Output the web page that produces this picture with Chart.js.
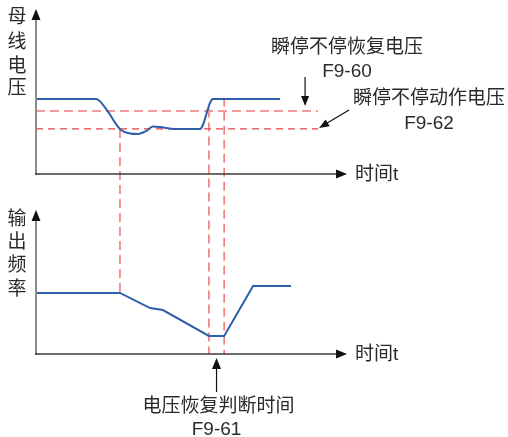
<!DOCTYPE html>
<html lang="zh">
<head>
<meta charset="UTF-8">
<title>瞬停不停</title>
<script src="https://cdn.jsdelivr.net/npm/chart.js"></script>
<style>
  html, body { margin: 0; padding: 0; background: #fff; }
  #wrap { position: relative; width: 508px; height: 437px; overflow: hidden; }
  canvas { position: absolute; left: 0; display: block; }
  #topChart { top: 0; }
  #bottomChart { top: 200px; }
</style>
</head>
<body>
<div id="wrap">
  <canvas id="topChart" width="508" height="200"></canvas>
  <canvas id="bottomChart" width="508" height="237"></canvas>
</div>
<script>
// time is relative (0..100 of the axis), levels are % of the axis height
const busTime = [0, 19.3, 23.2, 25.7, 27.3, 30.2, 32.8, 35.4, 37.6, 39.9, 44.7, 52.7, 56.9, 78.5];
const busVolt = [46.3, 46.3, 38.3, 30.9, 27.2, 25.0, 24.7, 26.5, 29.3, 29.0, 27.8, 27.8, 46.3, 46.3];

const freqTime = [0, 27.0, 36.7, 40.8, 55.6, 60.5, 69.8, 82.0];
const freqVal = [43.3, 43.3, 32.6, 31.2, 12.8, 12.8, 48.2, 48.2];

const recoverVolt = 38.9;   // F9-60
const actionVolt = 27.8;    // F9-62
const thresholdEnd = 90.7;

const markTimes = [27.0, 55.6, 60.5];
const markTopFrom = [27.8, 40.5, 47.0];
const markBottomTo = [43.3, 0, 0];

const BLUE = '#2f5eab';
const PINK = '#f29a9a';
const RED = '#e04444';
const VLINE = '#f27272';
const TXT = '#2a2a2a';
const FONT = '19px "Liberation Sans", "Noto Sans CJK SC", sans-serif';
const CANVAS_GAP = 200; // bottom canvas offset

function xy(xs, ys) {
  return xs.map((x, i) => ({ x: x, y: ys[i] }));
}

function arrow(ctx, x1, y1, x2, y2, len, half) {
  const a = Math.atan2(y2 - y1, x2 - x1);
  ctx.beginPath();
  ctx.moveTo(x1, y1);
  ctx.lineTo(x2 - Math.cos(a) * len * 0.8, y2 - Math.sin(a) * len * 0.8);
  ctx.stroke();
  ctx.beginPath();
  ctx.moveTo(x2, y2);
  ctx.lineTo(x2 - Math.cos(a) * len - Math.sin(a) * half, y2 - Math.sin(a) * len + Math.cos(a) * half);
  ctx.lineTo(x2 - Math.cos(a) * len + Math.sin(a) * half, y2 - Math.sin(a) * len - Math.cos(a) * half);
  ctx.closePath();
  ctx.fill();
}

// draws both axes with arrows, the vertical y label and "时间t"
function axesPlugin(label, labelYs, extra) {
  return {
    id: 'axes',
    afterDatasetsDraw(chart) {
      const ctx = chart.ctx;
      const ca = chart.chartArea;
      ctx.save();
      ctx.fillStyle = '#111';
      ctx.strokeStyle = '#8c8c8c';
      ctx.lineWidth = 2;
      arrow(ctx, ca.left, ca.bottom + 1, ca.left, ca.top - 3, 11, 4.5);
      ctx.strokeStyle = '#3a3a3a';
      ctx.lineWidth = 1.6;
      arrow(ctx, ca.left - 1, ca.bottom, ca.right, ca.bottom, 11, 4.5);

      ctx.fillStyle = TXT;
      ctx.font = FONT;
      ctx.textAlign = 'center';
      ctx.textBaseline = 'middle';
      label.split('').forEach((c, i) => ctx.fillText(c, 17, labelYs[i]));
      ctx.textAlign = 'left';
      ctx.fillText('时间t', ca.right + 8, ca.bottom + 1);
      extra(ctx, chart);
      ctx.restore();
    }
  };
}

function lineSet(data, color, width, dash, order) {
  return {
    data: data,
    borderColor: color,
    borderWidth: width,
    borderDash: dash,
    pointRadius: 0,
    fill: false,
    clip: false,
    order: order
  };
}

function baseOptions(pad) {
  return {
    responsive: false,
    animation: false,
    devicePixelRatio: 1,
    layout: { padding: pad },
    plugins: { legend: { display: false }, tooltip: { enabled: false } },
    scales: {
      x: { type: 'linear', min: 0, max: 100, display: false },
      y: { type: 'linear', min: 0, max: 100, display: false }
    }
  };
}

// ---- top: bus voltage ----
const topSets = [
  Object.assign(lineSet(xy(busTime, busVolt), BLUE, 2, [], 0), { cubicInterpolationMode: 'monotone' }),
  lineSet([{ x: 0, y: recoverVolt }, { x: thresholdEnd, y: recoverVolt }], PINK, 2, [9, 5], 2),
  lineSet([{ x: 0, y: actionVolt }, { x: thresholdEnd, y: actionVolt }], RED, 1.3, [7, 5], 2)
];
markTimes.forEach((t, i) => {
  topSets.push(lineSet([{ x: t, y: markTopFrom[i] }, { x: t, y: -20 }], VLINE, 1.5, [9, 5], 3));
});

const topChart = new Chart(document.getElementById('topChart'), {
  type: 'line',
  data: { datasets: topSets },
  options: baseOptions({ left: 36, right: 161, top: 12, bottom: 26 }),
  plugins: [axesPlugin('母线电压', [18, 43, 67, 89], (ctx, chart) => {
    const xs = chart.scales.x, ys = chart.scales.y;
    const endX = xs.getPixelForValue(thresholdEnd);
    ctx.textAlign = 'center';
    ctx.fillText('瞬停不停恢复电压', 347, 48);
    ctx.fillText('F9-60', 347, 72);
    ctx.fillText('瞬停不停动作电压', 429, 99);
    ctx.fillText('F9-62', 429, 124);
    ctx.strokeStyle = '#111';
    ctx.fillStyle = '#111';
    ctx.lineWidth = 1.2;
    arrow(ctx, endX - 13, 77, endX - 13, ys.getPixelForValue(recoverVolt) - 5, 10, 4);
    arrow(ctx, endX + 31, 110, endX + 1, ys.getPixelForValue(actionVolt) - 1, 10, 4);
  })]
});

// ---- bottom: output frequency ----
const bottomSets = [
  lineSet(xy(freqTime, freqVal), BLUE, 2, [], 0)
];
markTimes.forEach((t, i) => {
  bottomSets.push(lineSet([{ x: t, y: 115 }, { x: t, y: markBottomTo[i] }], VLINE, 1.5, [9, 5], 3));
});

const bottomChart = new Chart(document.getElementById('bottomChart'), {
  type: 'line',
  data: { datasets: bottomSets },
  options: baseOptions({ left: 36, right: 161, top: 13, bottom: 83 }),
  plugins: [axesPlugin('输出频率', [20, 43, 66, 90], (ctx, chart) => {
    const xs = chart.scales.x;
    const ca = chart.chartArea;
    const midX = (xs.getPixelForValue(markTimes[1]) + xs.getPixelForValue(markTimes[2])) / 2;
    ctx.strokeStyle = '#111';
    ctx.fillStyle = '#111';
    ctx.lineWidth = 1.2;
    arrow(ctx, midX, ca.bottom + 38, midX, ca.bottom + 4, 11, 4.5);
    ctx.fillStyle = TXT;
    ctx.textAlign = 'center';
    ctx.fillText('电压恢复判断时间', midX + 2, ca.bottom + 53);
    ctx.fillText('F9-61', midX, ca.bottom + 76);
  })]
});

// start the lower halves of the marker lines at the same page height as the upper
// halves so the dash pattern runs on across the two canvases
markTimes.forEach((t, i) => {
  const startPx = topChart.scales.y.getPixelForValue(markTopFrom[i]) - CANVAS_GAP;
  bottomChart.data.datasets[i + 1].data[0].y = bottomChart.scales.y.getValueForPixel(startPx);
});
bottomChart.update('none');
</script>
</body>
</html>
